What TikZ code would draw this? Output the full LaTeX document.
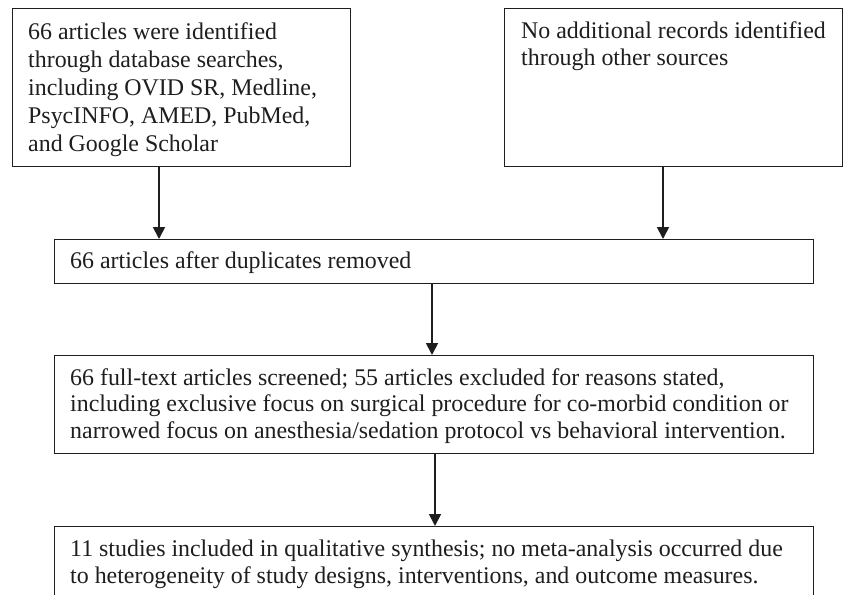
\documentclass[tikz,border=0pt]{standalone}
\usepackage{fontspec}
\setmainfont{Liberation Serif}
\usetikzlibrary{arrows.meta,calc}
\definecolor{ink}{HTML}{1E1E1E}
\begin{document}
\begin{tikzpicture}[x=1pt,y=-1pt,
  box/.style={draw=ink,line width=1.3pt,rectangle,inner sep=0pt,anchor=north west},
  txt/.style={anchor=base west,inner sep=0pt,align=left,text=ink,font=\fontsize{23.9}{27}\selectfont},
  arr/.style={draw=ink,line width=1.8pt,-{Triangle[length=12pt,width=12pt]}}]
\useasboundingbox (0,0) rectangle (848,594);
\clip (0,0) rectangle (848,594);
\fill[white] (0,0) rectangle (848,594);
% boxes
\node[box,minimum width=338pt,minimum height=158pt] (b1) at (12,8) {};
\node[box,minimum width=338pt,minimum height=158pt] (b2) at (504,8) {};
\node[box,minimum width=759pt,minimum height=44pt] (b3) at (54,239) {};
\node[box,minimum width=759pt,minimum height=98pt] (b4) at (54,355) {};
\node[box,minimum width=759pt,minimum height=98pt] (b5) at (54,526) {};
% texts (anchored at the baseline of their last line)
\node[txt,font=\fontsize{23.9}{28}\selectfont] (t1) at (28,151) {66 articles were identified\\through database searches,\\including OVID SR, Medline,\\PsycINFO, AMED, PubMed,\\and Google Scholar};
\node[txt,font=\fontsize{23.9}{28}\selectfont] (t2) at (521,66) {No additional records identified\\through other sources};
\node[txt] (t3) at (70,268) {66 articles after duplicates removed};
\node[txt,font=\fontsize{23.9}{26.5}\selectfont] (t4) at (70,438) {66 full-text articles screened; 55 articles excluded for reasons stated,\\including exclusive focus on surgical procedure for co-morbid condition or\\narrowed focus on anesthesia/sedation protocol vs behavioral intervention.};
\node[txt,font=\fontsize{23.9}{26.5}\selectfont] (t5) at (70,583) {11 studies included in qualitative synthesis; no meta-analysis occurred due\\to heterogeneity of study designs, interventions, and outcome measures.};
% connector x positions
\coordinate (x1) at (159,0);
\coordinate (x2) at (663,0);
\coordinate (x3) at (432,0);
\coordinate (x4) at (435,0);
\draw[arr] (b1.south -| x1) -- (b3.north -| x1);
\draw[arr] (b2.south -| x2) -- (b3.north -| x2);
\draw[arr] (b3.south -| x3) -- (b4.north -| x3);
\draw[arr] (b4.south -| x4) -- (b5.north -| x4);
\end{tikzpicture}
\end{document}
